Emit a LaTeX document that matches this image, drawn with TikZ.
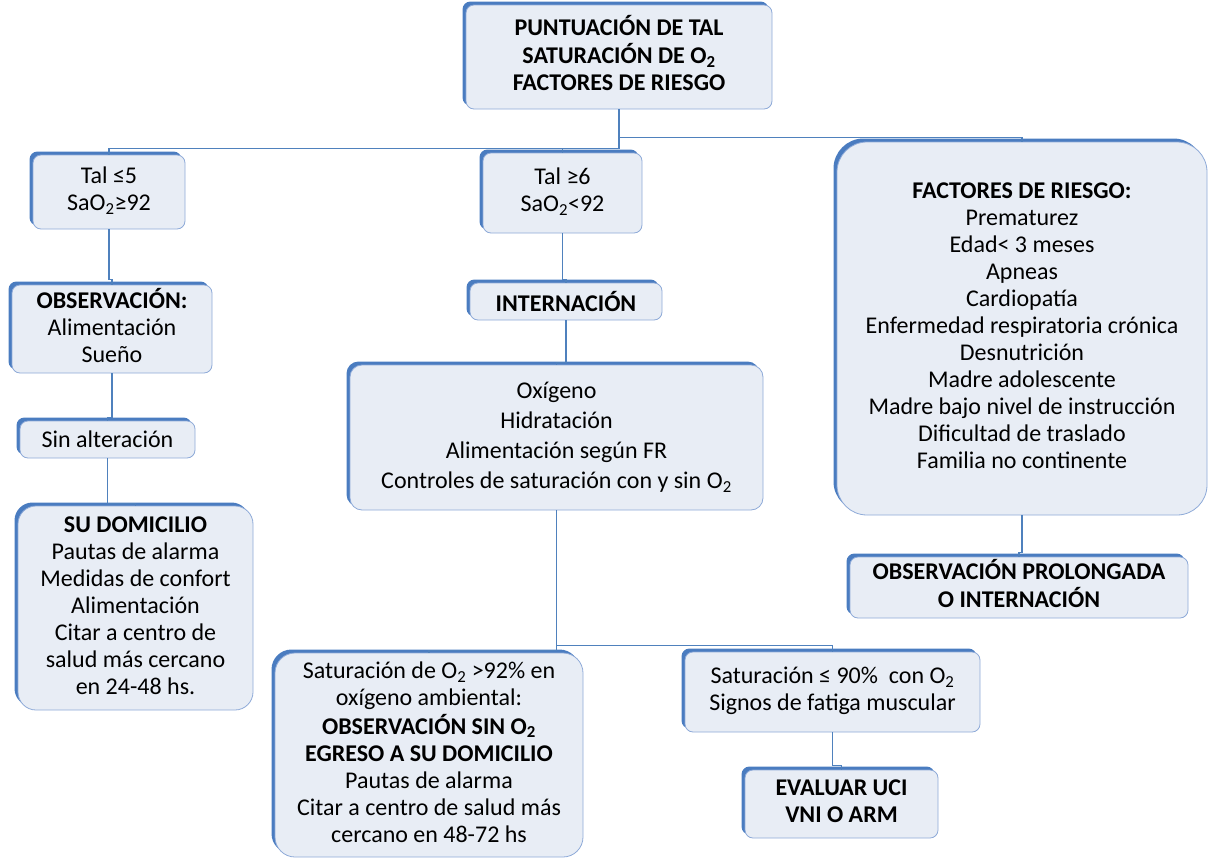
\documentclass[tikz,border=0pt]{standalone}
\usepackage{fontspec}
\setmainfont{Carlito}
\usepackage{pgf,tikz}
\usetikzlibrary{shadows}

\definecolor{RellenoCaja}{HTML}{E8EDF5}
\definecolor{BordeCaja}{HTML}{8EAAD8}
\definecolor{SombraAzul}{HTML}{4A7CC0}
\definecolor{LineaAzul}{HTML}{4F81BD}

\begin{document}
\begin{tikzpicture}[x=1pt, y=1pt,
  caja/.style={draw=BordeCaja, line width=0.8pt, fill=RellenoCaja,
    rounded corners=8pt, inner sep=0pt,
    general shadow={shadow xshift=-3.5pt, shadow yshift=3.5pt, fill=SombraAzul},
    font=\fontsize{24}{27}\selectfont},
  conector/.style={draw=LineaAzul, line width=1.2pt}]
  \useasboundingbox (0,0) rectangle (1208,-865);

  \node[caja, minimum width=306pt, minimum height=104pt] (Tal) at (619,-57)
  {\begin{tabular}{c}\textbf{PUNTUACIÓN DE TAL} \\
      \textbf{SATURACIÓN DE O\textsubscript{2}} \\ \textbf{FACTORES DE RIESGO}\end{tabular}};

  \node[caja, minimum width=152pt, minimum height=74pt] (TalBajo) at (109,-192)
  {\begin{tabular}{c}Tal ≤5 \\ SaO\textsubscript{2}≥92\end{tabular}};
  \node[caja, minimum width=159pt, minimum height=80pt] (TalAlto) at (562.5,-193)
  {\begin{tabular}{c}Tal ≥6 \\ SaO\textsubscript{2}<92\end{tabular}};
  \node[caja, rounded corners=30pt, minimum width=370pt, minimum height=373pt] (Riesgo)
  at (1022,-328.5)
  {\begin{tabular}{c}\textbf{FACTORES DE RIESGO:} \\ Prematurez \\ Edad< 3 meses \\
      Apneas \\ Cardiopatía \\ Enfermedad respiratoria crónica \\ Desnutrición \\
      Madre adolescente \\ Madre bajo nivel de instrucción \\ Dificultad de traslado \\
      Familia no continente\end{tabular}};

  \node[caja, minimum width=200pt, minimum height=88pt] (Observacion) at (112,-329)
  {\begin{tabular}{c}\textbf{OBSERVACIÓN:} \\ Alimentación \\ Sueño\end{tabular}};
  \node[caja, minimum width=175pt, minimum height=37pt] (SinAlteracion) at (107.5,-439.5)
  {Sin alteración};
  \node[caja, rounded corners=18pt, minimum width=235pt, minimum height=204pt] (Domicilio)
  at (135.5,-608)
  {\begin{tabular}{c}\textbf{SU DOMICILIO} \\ Pautas de alarma \\ Medidas de confort \\
      Alimentación \\ Citar a centro de \\ salud más cercano \\ en 24-48 hs.\end{tabular}};

  \node[caja, minimum width=192pt, minimum height=37pt] (Internacion) at (566,-301.5)
  {\textbf{INTERNACIÓN}};
  \node[caja, rounded corners=12pt, minimum width=413pt, minimum height=145pt,
  font=\fontsize{24}{30}\selectfont] (Medidas) at (556.5,-437.5)
  {\begin{tabular}{c}Oxígeno \\ Hidratación \\ Alimentación según FR \\
      Controles de saturación con y sin O\textsubscript{2}\end{tabular}};

  \node[caja, rounded corners=20pt, minimum width=308pt, minimum height=204pt] (Egreso)
  at (429,-755)
  {\begin{tabular}{c}Saturación de O\textsubscript{2} >92\% en \\ oxígeno ambiental: \\
      \textbf{OBSERVACIÓN SIN O\textsubscript{2}} \\ \textbf{EGRESO A SU DOMICILIO} \\
      Pautas de alarma \\ Citar a centro de salud más \\ cercano en 48-72 hs\end{tabular}};
  \node[caja, minimum width=295pt, minimum height=80pt] (Fatiga) at (832.5,-692)
  {\begin{tabular}{c}Saturación ≤ 90\%~ con O\textsubscript{2} \\
      Signos de fatiga muscular\end{tabular}};
  \node[caja, minimum width=193pt, minimum height=68pt] (UCI) at (841.5,-804)
  {\begin{tabular}{c}\textbf{EVALUAR UCI} \\ \textbf{VNI O ARM}\end{tabular}};

  \node[caja, minimum width=338pt, minimum height=61pt] (Prolongada) at (1019,-587.5)
  {\begin{tabular}{c}\textbf{OBSERVACIÓN PROLONGADA} \\ \textbf{O INTERNACIÓN}\end{tabular}};

  \draw[conector] (Tal.south) -- ++(0,-28) -| (Riesgo.north);
  \draw[conector] (Tal.south) -- ++(0,-39) -| (TalBajo.north);
  \draw[conector] (Tal.south) -- ++(0,-39) -| (TalAlto.north);
  \draw[conector] (TalBajo.south) -- ++(0,-50) -| (Observacion.north);
  \draw[conector] (Observacion.south) -- ++(0,-44) -| (SinAlteracion.north);
  \draw[conector] (SinAlteracion.south) -- ++(0,-45) -| (Domicilio.north);
  \draw[conector] (TalAlto.south) -- ++(0,-46) -| (Internacion.north);
  \draw[conector] (Internacion.south) -- ++(0,-42) -| (Medidas.north);
  \draw[conector] (Medidas.south) -- ++(0,-135) -| (Fatiga.north);
  \draw[conector] (Medidas.south) -- ++(0,-140) -| (Egreso.north);
  \draw[conector] (Fatiga.south) -- ++(0,-33) -| (UCI.north);
  \draw[conector] (Riesgo.south) -- ++(0,-37) -| (Prolongada.north);
\end{tikzpicture}
\end{document}
